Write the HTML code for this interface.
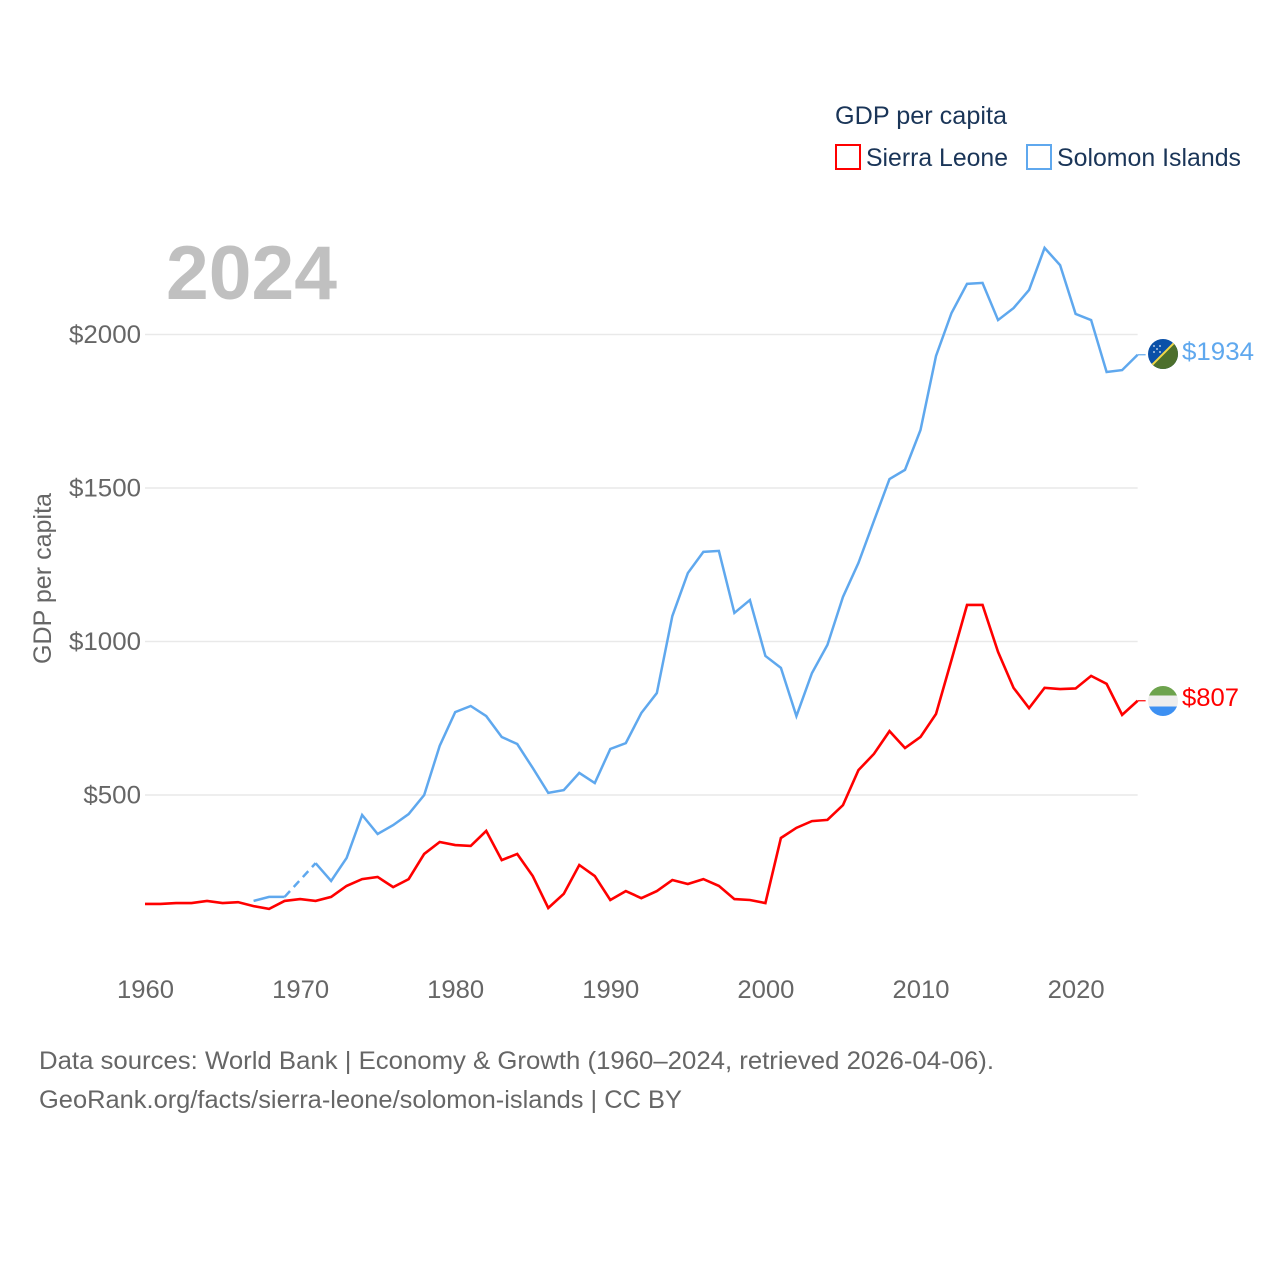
<!DOCTYPE html>
<html lang="en">
<head>
<meta charset="utf-8">
<title>GDP per capita: Sierra Leone and Solomon Islands</title>
<style>
html,body{margin:0;padding:0;background:#fff;width:1280px;height:1280px;overflow:hidden}
svg{display:block;font-family:"Liberation Sans",sans-serif}
</style>
</head>
<body>
<svg id="chart" width="1280" height="1280" viewBox="0 0 1280 1280">
  <defs>
    <clipPath id="clip-si"><circle cx="1163" cy="354" r="15"/></clipPath>
    <clipPath id="clip-sl"><circle cx="1163" cy="701" r="15"/></clipPath>
  </defs>
  <g id="grid"></g>
  <text x="166" y="299" font-size="76" font-weight="700" fill="#c0c0c0" textLength="171" lengthAdjust="spacingAndGlyphs">2024</text>
  <g id="yticks"></g>
  <g id="xticks"></g>
  <text transform="translate(51,664) rotate(-90)" font-size="25" fill="#666666" textLength="171" lengthAdjust="spacingAndGlyphs">GDP per capita</text>
  <g id="series"></g>

  <g>
    <text x="835" y="124" font-size="25" fill="#1a3558" textLength="172" lengthAdjust="spacingAndGlyphs">GDP per capita</text>
    <rect x="836" y="145" width="24" height="24" fill="#fff" stroke="#ff0000" stroke-width="2"/>
    <text x="866" y="166" font-size="25" fill="#1a3558" textLength="142" lengthAdjust="spacingAndGlyphs">Sierra Leone</text>
    <rect x="1027" y="145" width="24" height="24" fill="#fff" stroke="#5fa8ee" stroke-width="2"/>
    <text x="1057" y="166" font-size="25" fill="#1a3558" textLength="184" lengthAdjust="spacingAndGlyphs">Solomon Islands</text>
  </g>

  <g clip-path="url(#clip-si)">
    <rect x="1148" y="339" width="30" height="30" fill="#0a50a8"/>
    <polygon points="1178,339 1178,369 1148,369" fill="#4c6f2c"/>
    <line x1="1148" y1="369" x2="1178" y2="339" stroke="#f2d848" stroke-width="2"/>
    <g fill="#e4eaf4">
      <circle cx="1154" cy="346" r="0.900"/><circle cx="1160" cy="346" r="0.900"/>
      <circle cx="1157" cy="349" r="0.900"/><circle cx="1154" cy="352" r="0.900"/>
      <circle cx="1160" cy="352" r="0.900"/>
    </g>
  </g>
  <g clip-path="url(#clip-sl)">
    <rect x="1148" y="685" width="30" height="10.500" fill="#6da34d"/>
    <rect x="1148" y="695.500" width="30" height="11" fill="#eeeeee"/>
    <rect x="1148" y="706.500" width="30" height="10.500" fill="#3d90f2"/>
  </g>
  <text x="1182" y="360" font-size="25" fill="#5fa8ee" textLength="72" lengthAdjust="spacingAndGlyphs">$1934</text>
  <text x="1182" y="706" font-size="25" fill="#ff0000" textLength="57" lengthAdjust="spacingAndGlyphs">$807</text>

  <g>
    <text x="39" y="1069" font-size="25" fill="#666666" textLength="955" lengthAdjust="spacingAndGlyphs">Data sources: World Bank | Economy &amp; Growth (1960–2024, retrieved 2026-04-06).</text>
    <text x="39" y="1108" font-size="25" fill="#666666" textLength="643" lengthAdjust="spacingAndGlyphs">GeoRank.org/facts/sierra-leone/solomon-islands | CC BY</text>
  </g>
</svg>
<script>
const startYear = 1960;
const sierraLeone = [145,145,148,148,155,148,151,138,129,155,161,155,168,204,226,233,200,226,308,347,337,334,383,288,308,236,132,178,272,236,158,187,164,187,223,210,226,204,161,158,148,360,393,415,419,467,581,634,708,653,689,764,940,1119,1119,966,849,783,849,845,847,888,862,761,807];
const solomonIslands = [null,null,null,null,null,null,null,155,168,168,null,278,220,295,435,373,402,438,500,660,770,790,757,689,666,588,507,516,572,539,650,669,767,832,1083,1223,1292,1295,1093,1135,953,914,757,897,989,1145,1256,1393,1529,1559,1689,1930,2070,2165,2168,2047,2086,2145,2282,2226,2067,2047,1878,1884,1934];
const yTicks = [500,1000,1500,2000];
const yTickLabels = ['$500','$1000','$1500','$2000'];
const xTicks = [1960,1970,1980,1990,2000,2010,2020];

function xScale(year){ return 145 + (year - 1960) * 15.51; }
function yScale(value){ return 948.5 - value * 0.307; }

const NS = 'http://www.w3.org/2000/svg';
function make(tag, parent){
  const el = document.createElementNS(NS, tag);
  parent.appendChild(el);
  return el;
}

const gridG = document.getElementById('grid');
const yG = document.getElementById('yticks');
const xG = document.getElementById('xticks');
const seriesG = document.getElementById('series');

yTicks.forEach(function(v, i){
  const line = make('line', gridG);
  
  
  line.setAttribute('x1', xScale(1960));
  line.setAttribute('x2', xScale(2024));
  line.setAttribute('y1', yScale(v));
  line.setAttribute('y2', yScale(v));
  line.setAttribute('stroke', '#e9e9e9');
  line.setAttribute('stroke-width', '1.6');

  const label = make('text', yG);
  
  
  label.setAttribute('x', 141);
  label.setAttribute('y', yScale(v) + 8.5);
  label.setAttribute('text-anchor', 'end');
  label.setAttribute('font-size', '25');
  label.setAttribute('fill', '#666666');
  label.setAttribute('textLength', yTickLabels[i].length * 14.4);
  label.setAttribute('lengthAdjust', 'spacingAndGlyphs');
  label.textContent = yTickLabels[i];
});

xTicks.forEach(function(yr){
  const label = make('text', xG);
  
  
  label.setAttribute('x', xScale(yr) + 0.5);
  label.setAttribute('y', 998);
  label.setAttribute('text-anchor', 'middle');
  label.setAttribute('font-size', '25');
  label.setAttribute('fill', '#666666');
  label.setAttribute('textLength', 57);
  label.setAttribute('lengthAdjust', 'spacingAndGlyphs');
  label.textContent = String(yr);
});

function styleLine(el, color, width){
  el.setAttribute('fill', 'none');
  el.setAttribute('stroke', color);
  el.setAttribute('stroke-width', width);
  el.setAttribute('stroke-linejoin', 'miter');
}

function drawSeries(values, color, width){
  let run = [];
  let lastDefined = null;
  function flush(){
    if (run.length > 1) {
      const path = make('polyline', seriesG);
      
      
      path.setAttribute('points', run.join(' '));
      styleLine(path, color, width);
    }
    run = [];
  }
  values.forEach(function(v, i){
    const yr = startYear + i;
    if (v === null) { flush(); return; }
    const px = xScale(yr) + ',' + yScale(v);
    if (lastDefined !== null && lastDefined.i !== i - 1) {
      const gap = make('line', seriesG);
      
      
      gap.setAttribute('x1', xScale(startYear + lastDefined.i));
      gap.setAttribute('y1', yScale(lastDefined.v));
      gap.setAttribute('x2', xScale(yr));
      gap.setAttribute('y2', yScale(v));
      gap.setAttribute('stroke-dasharray', '8 5.5');
      styleLine(gap, color, width);
    }
    run.push(px);
    lastDefined = {i: i, v: v};
  });
  flush();

  const leader = make('line', seriesG);
  
  
  leader.setAttribute('x1', xScale(2024));
  leader.setAttribute('x2', xScale(2024) + 8);
  leader.setAttribute('y1', yScale(lastDefined.v));
  leader.setAttribute('y2', yScale(lastDefined.v));
  styleLine(leader, color, 1.2);
}

drawSeries(solomonIslands, '#5fa8ee', 2.5);
drawSeries(sierraLeone, '#ff0000', 2.6);
</script>
</body>
</html>
